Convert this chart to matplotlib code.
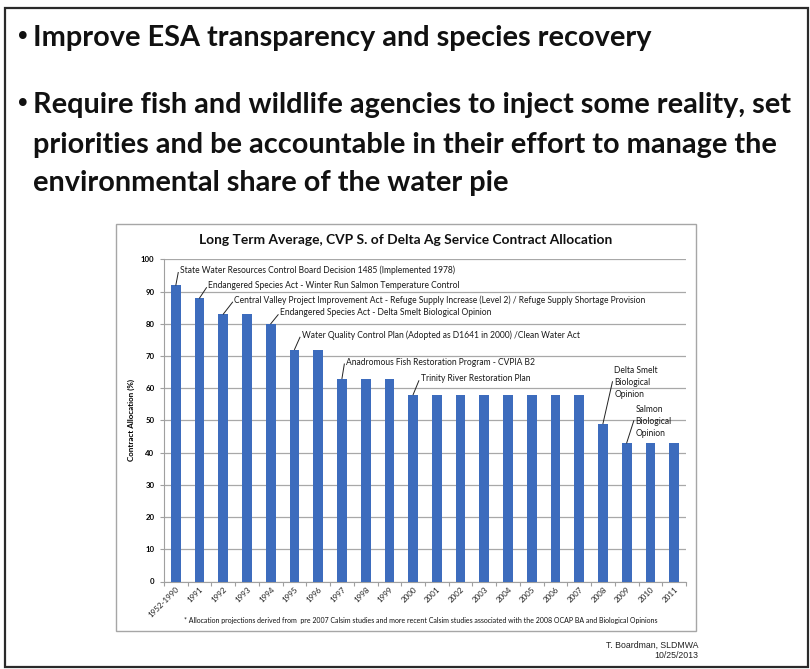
import matplotlib
matplotlib.use("Agg")
import matplotlib.pyplot as plt
from matplotlib.patches import Rectangle
import numpy as np

# Chart data
years = ["1952-1990", "1991", "1992", "1993", "1994", "1995", "1996", "1997",
         "1998", "1999", "2000", "2001", "2002", "2003", "2004", "2005",
         "2006", "2007", "2008", "2009", "2010", "2011"]
allocation = [92, 88, 83, 83, 80, 72, 72, 63, 63, 63, 58, 58, 58, 58, 58,
              58, 58, 58, 49, 43, 43, 43]

# Annotated events: (bar index, text)
events = [
    (0, "State Water Resources Control Board Decision 1485 (Implemented 1978)"),
    (1, "Endangered Species Act - Winter Run Salmon Temperature Control"),
    (2, "Central Valley Project Improvement Act - Refuge Supply Increase (Level 2) / Refuge Supply Shortage Provision"),
    (4, "Endangered Species Act - Delta Smelt Biological Opinion"),
    (5, "Water Quality Control Plan (Adopted as D1641 in 2000) /Clean Water Act"),
    (7, "Anadromous Fish Restoration Program - CVPIA B2"),
    (10, "Trinity River Restoration Plan"),
    (18, "Delta Smelt\nBiological\nOpinion"),
    (19, "Salmon\nBiological\nOpinion"),
]
# where each callout line ends (x, y) in data units
event_ends = [(0.1, 95.9), (1.29, 91.2), (2.39, 86.7), (4.31, 82.8),
              (5.23, 75.8), (7.1, 67.5), (10.24, 62.3), (18.4, 62.0),
              (19.3, 49.9)]

bullets = ["Improve ESA transparency and species recovery",
           "Require fish and wildlife agencies to inject some reality, set",
           "priorities and be accountable in their effort to manage the",
           "environmental share of the water pie"]

W, H = 810, 669
fig = plt.figure(figsize=(W / 100, H / 100), dpi=100)
fig.patch.set_facecolor("white")


def fx(px):
    return px / W


def fy(py):
    return 1 - py / H


# slide frame
fig.patches.append(Rectangle((fx(5), fy(667)), fx(808) - fx(5), fy(8) - fy(667),
                             transform=fig.transFigure, fill=False,
                             edgecolor="#2a2a2a", lw=1.6))
# chart frame
fig.patches.append(Rectangle((fx(116), fy(631)), fx(696) - fx(116), fy(224) - fy(631),
                             transform=fig.transFigure, fill=False,
                             edgecolor="#a6a6a6", lw=1.0))

# bullet text
bfont = dict(family="Lato", weight="bold", color="#111111", fontsize=20.8)
dot = dict(family="DejaVu Sans", color="#111111", fontsize=19)
fig.text(fx(15), fy(38), "\u2022", va="center", ha="left", **dot)
fig.text(fx(33), fy(38), bullets[0], va="center", ha="left", **bfont)
fig.text(fx(15), fy(105), "\u2022", va="center", ha="left", **dot)
for txt, py in zip(bullets[1:], [105, 145, 183]):
    fig.text(fx(33), fy(py), txt, va="center", ha="left", **bfont)

# chart
ax = fig.add_axes([fx(164), fy(581.5), fx(686) - fx(164), fy(259.3) - fy(581.5)])
x = np.arange(len(years))
ax.bar(x, allocation, width=0.41, color="#3d6cbd", zorder=3)
ax.set_xlim(-0.5, len(years) - 0.5)
ax.set_ylim(0, 100)
ax.set_yticks(range(0, 101, 10))
ax.yaxis.grid(True, color="#a8a8a8", lw=0.9, zorder=0)
for s in ["top", "right"]:
    ax.spines[s].set_visible(False)
ax.spines["left"].set_color("#a0a0a0")
ax.spines["bottom"].set_color("#a0a0a0")
ax.tick_params(axis="y", length=3, color="#a0a0a0", labelsize=5.6, pad=4)
ax.set_yticklabels([str(v) for v in range(0, 101, 10)], family="Lato", weight="bold")

# category ticks between bars, labels at bar centres
ax.set_xticks(np.arange(-0.5, len(years), 1.0), minor=False)
ax.set_xticklabels([])
ax.tick_params(axis="x", length=3, color="#a0a0a0")
ax.set_xticks(x, minor=True)
ax.set_xticklabels(years, minor=True, rotation=45, ha="right", rotation_mode="anchor",
                   fontsize=5.8, family="Lato", color="#222222")
ax.tick_params(axis="x", which="minor", length=0, pad=3)

ax.set_ylabel("Contract Allocation (%)", fontsize=5.8, weight="bold", family="Lato",
              labelpad=4)

for (i, txt), (ex, ey) in zip(events, event_ends):
    ax.plot([i, ex], [allocation[i], ey], color="#222222", lw=0.7, zorder=4)
    ax.text(ex + 0.08, ey + 0.6 if "\n" not in txt else ey - 0.3, txt,
            fontsize=6.15, family="Lato", color="#1a1a1a", va="center", ha="left",
            linespacing=1.45, zorder=5)

fig.text(fx(405.5), fy(240), "Long Term Average, CVP S. of Delta Ag Service Contract Allocation",
         ha="center", va="center", fontsize=9.9, weight="bold", family="Lato",
         color="#111111")
fig.text(fx(421), fy(620), "* Allocation projections derived from  pre 2007 Calsim studies and more recent Calsim studies associated with the 2008 OCAP BA and Biological Opinions",
         ha="center", va="center", fontsize=5.05, family="Lato", color="#111111")

fig.text(fx(698), fy(645), "T. Boardman, SLDMWA", ha="right", va="center",
         fontsize=6.3, family="Liberation Sans", color="#222222")
fig.text(fx(698), fy(655), "10/25/2013", ha="right", va="center",
         fontsize=6.3, family="Liberation Sans", color="#222222")

fig.savefig("out.png", dpi=100)
